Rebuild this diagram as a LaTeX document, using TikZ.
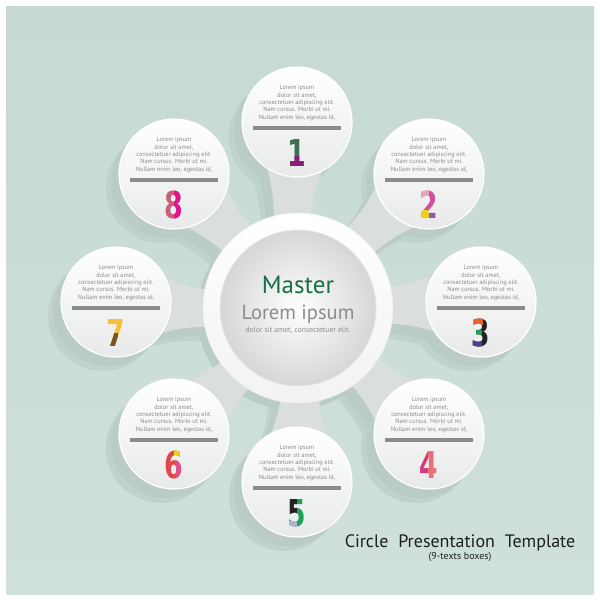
\documentclass[tikz,border=0pt]{standalone}
\usepackage{fontspec}
\setmainfont{PT Sans}
\newfontfamily\digfont{DejaVu Sans}
\usetikzlibrary{calc}
\definecolor{bgtop}{HTML}{C6D9D5}
\definecolor{bgbot}{HTML}{D0E1DD}
\definecolor{shA}{HTML}{B9CCC8}
\definecolor{shB}{HTML}{C0D2CE}
\definecolor{tailc}{HTML}{DADEDC}
\definecolor{bubbot}{HTML}{E8EAE9}
\definecolor{txtg}{HTML}{8A8A8A}
\definecolor{barg}{HTML}{8C8C8C}
\definecolor{mgreen}{HTML}{17704A}
\definecolor{lgray}{HTML}{8C8C8C}
\definecolor{ttl}{HTML}{1E1E1E}
% digit colours
\definecolor{dgreen}{HTML}{3F6E55}
\definecolor{dpurple}{HTML}{8A1C7C}
\definecolor{dmag}{HTML}{D0509A}
\definecolor{dpink}{HTML}{EAA6B8}
\definecolor{dyellow}{HTML}{F2D20A}
\definecolor{dviolet}{HTML}{8E5FA0}
\definecolor{dblack}{HTML}{222222}
\definecolor{dorange}{HTML}{E8622A}
\definecolor{dindigo}{HTML}{4C3F8F}
\definecolor{dsalmon}{HTML}{E8707A}
\definecolor{dcrim}{HTML}{D23C7E}
\definecolor{dgreen2}{HTML}{22A055}
\definecolor{dlav}{HTML}{B5AEDB}
\definecolor{dred}{HTML}{E0474B}
\definecolor{dpink2}{HTML}{E0508C}
\definecolor{dgold}{HTML}{F2C03C}
\definecolor{dbrown}{HTML}{7A5420}
\definecolor{drose}{HTML}{C8607A}
\definecolor{dfuchsia}{HTML}{E2148C}

\tikzset{
  smalltxt/.style={font=\fontsize{6.3}{7.3}\selectfont, text=txtg, align=center, inner sep=0pt},
  digitstyle/.style={font=\digfont\bfseries\fontsize{37}{37}\selectfont, inner sep=0pt, xscale=0.72},
  barstyle/.style={fill=barg},
  bubblestyle/.style={top color=white, bottom color=bubbot, draw=white, line width=1.2pt},
  tailstyle/.style={fill=tailc},
}
% tail of a bubble, in the bubble's own frame; #1 = direction to the centre
\newcommand\tailshape[1]{(#1+30:55) .. controls (#1+16:74) .. (#1+9:108) -- (#1-9:108) .. controls (#1-16:74) .. (#1-30:55) -- cycle}
\newcommand\bubshadow[3]{%
  \begin{scope}[shift={(#1-13,#2+14)}]
    \fill[shB] \tailshape{#3}; \fill[shB] (0,0) circle[radius=55pt];
  \end{scope}
  \begin{scope}[shift={(#1-8,#2+9)}]
    \fill[shA] \tailshape{#3}; \fill[shA] (0,0) circle[radius=55pt];
  \end{scope}}
\newcommand\bubtail[3]{%
  \begin{scope}[shift={(#1,#2)}]\fill[tailstyle] \tailshape{#3};\end{scope}}
\newcommand\bubdisc[2]{%
  \shade[bubblestyle] (#1,#2) circle[radius=55pt];}
\newcommand\bubtext[1]{%
  \node[smalltxt] (#1txt) at ($(#1)+(0,-19)$) {Lorem ipsum\\dolor sit amet,\\consectetuer adipiscing elit.\\Nam cursus. Morbi ut mi.\\Nullam enim leo, egestas id,};
  \fill[barstyle] ($(#1)+(-44,4)$) rectangle ($(#1)+(44,8)$);
  \coordinate (#1d) at ($(#1)+(0,31)$);}
% #1 coord, #2 char, #3 colour, #4 #5 clip corners (pixel offsets)
\newcommand\digpart[5]{%
  \begin{scope}\clip ($(#1)+(#4)$) rectangle ($(#1)+(#5)$);
  \node[digitstyle,text=#3] at (#1) {#2};\end{scope}}

\begin{document}
\begin{tikzpicture}[x=1pt,y=-1pt]
\useasboundingbox (0,0) rectangle (600,600);
\fill[white] (0,0) rectangle (600,600);
\shade[top color=bgtop, bottom color=bgbot] (6,6) rectangle (594,594);

\coordinate (C) at (298,308);
\coordinate (b1) at (297,122);
\coordinate (b2) at (429,174);
\coordinate (b3) at (481,302);
\coordinate (b4) at (429,434);
\coordinate (b5) at (297,482);
\coordinate (b6) at (174,434);
\coordinate (b7) at (116,302);
\coordinate (b8) at (174,174);

% shadows
\bubshadow{297}{122}{93}
\bubshadow{429}{174}{136}
\bubshadow{481}{302}{178}
\bubshadow{429}{434}{224}
\bubshadow{297}{482}{272}
\bubshadow{174}{434}{316}
\bubshadow{116}{302}{4}
\bubshadow{174}{174}{46}
\fill[shA] (293,314) circle[radius=96pt];

% tails
\bubtail{297}{122}{93}
\bubtail{429}{174}{136}
\bubtail{481}{302}{178}
\bubtail{429}{434}{224}
\bubtail{297}{482}{272}
\bubtail{174}{434}{316}
\bubtail{116}{302}{4}
\bubtail{174}{174}{46}

% bubbles
\bubdisc{297}{122}
\bubdisc{429}{174}
\bubdisc{481}{302}
\bubdisc{429}{434}
\bubdisc{297}{482}
\bubdisc{174}{434}
\bubdisc{116}{302}
\bubdisc{174}{174}

% centre circle
\shade[top color=white, bottom color=black!5, draw=black!7, line width=0.6pt] (C) circle[radius=95pt];
\shade[inner color=white, outer color=black!16] (C) circle[radius=78pt];
\draw[black!9, line width=0.8pt] (C) circle[radius=78pt];

\node[font=\fontsize{25}{25}\selectfont, text=mgreen, anchor=base, inner sep=0pt] (master) at (298,293) {Master};
\node[font=\fontsize{20.5}{20.5}\selectfont, text=lgray, anchor=base, inner sep=0pt] (lorem) at (298,319) {Lorem ipsum};
\node[font=\fontsize{7.6}{7.6}\selectfont, text=lgray, anchor=base, inner sep=0pt] (dolor) at (298,332) {dolor sit amet, consectetuer elit.};

% texts and bars
\bubtext{b1}\bubtext{b2}\bubtext{b3}\bubtext{b4}
\bubtext{b5}\bubtext{b6}\bubtext{b7}\bubtext{b8}

% digits
\node[digitstyle,text=dgreen] (n1) at (b1d) {1};
\digpart{b1d}{1}{dpurple}{-15,3}{15,20}
\node[digitstyle,text=dmag] (n2) at (b2d) {2};
\digpart{b2d}{2}{dpink}{-15,-20}{-1,-2}
\digpart{b2d}{2}{dyellow}{-15,5}{0,20}
\digpart{b2d}{2}{dviolet}{0,8}{15,20}
\node[digitstyle,text=dblack] (n3) at (b3d) {3};
\digpart{b3d}{3}{dorange}{-15,-20}{1,-9}
\digpart{b3d}{3}{dgreen2}{-15,-3}{0,3}
\digpart{b3d}{3}{dindigo}{-15,8}{0,20}
\node[digitstyle,text=dsalmon] (n4) at (b4d) {4};
\digpart{b4d}{4}{dcrim}{-15,-20}{-2,8}
\node[digitstyle,text=dgreen2] (n5) at (b5d) {5};
\digpart{b5d}{5}{dblack}{-15,-20}{-1,3}
\digpart{b5d}{5}{dlav}{-15,8}{-1,20}
\node[digitstyle,text=dred] (n6) at (b6d) {6};
\digpart{b6d}{6}{dpink2}{1,-5}{15,20}
\digpart{b6d}{6}{dyellow}{0,-20}{15,-8}
\node[digitstyle,text=dgold] (n7) at (b7d) {7};
\digpart{b7d}{7}{dbrown}{-15,0}{1,20}
\node[digitstyle,text=drose] (n8) at (b8d) {8};
\digpart{b8d}{8}{dfuchsia}{0,-20}{15,20}

% title
\node[font=\fontsize{18}{18}\selectfont, text=ttl, anchor=base, inner sep=0pt] (title) at (460,547) {Circle\hspace{5pt} Presentation\hspace{5pt} Template};
\node[font=\fontsize{10}{10}\selectfont, text=ttl, anchor=base, inner sep=0pt] (sub) at (460,559) {(9-texts boxes)};
\end{tikzpicture}
\end{document}
